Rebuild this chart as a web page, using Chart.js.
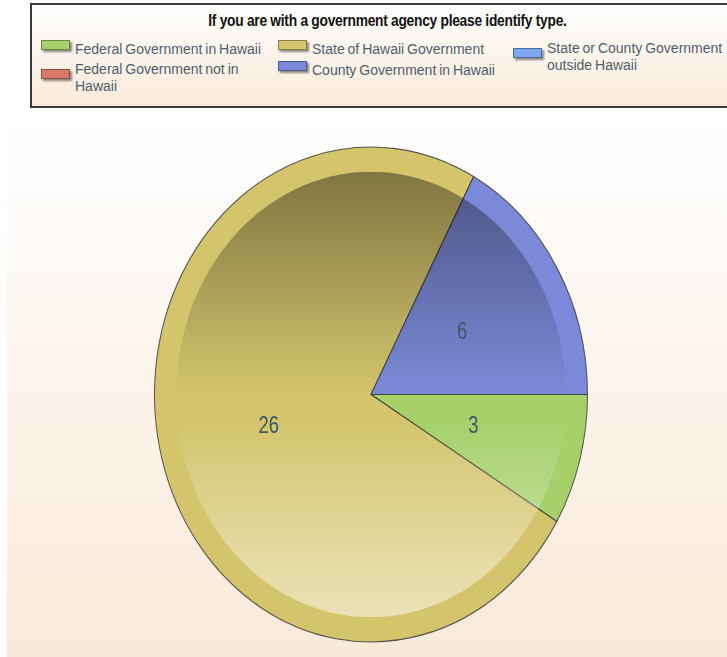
<!DOCTYPE html>
<html>
<head>
<meta charset="utf-8">
<script src="https://cdn.jsdelivr.net/npm/chart.js@4.4.1/dist/chart.umd.min.js"></script>
<style>
  body { margin: 0; width: 727px; height: 657px; overflow: hidden; background: #fff; position: relative; }
  #panel { position: absolute; left: 7px; top: 132px; right: 0; bottom: 0;
           background: linear-gradient(#fefefe, #f9e9d8); }
  #legend { position: absolute; left: 30px; top: 3px; width: 715px; height: 105px; box-sizing: border-box;
            border: 2px solid #3a3a3a; background: linear-gradient(#fefefe, #f9e9d8); }
  #legend .title { position: absolute; left: 0; right: 0; top: 7px; text-align: center; }
  #legend .title span { display: inline-block; transform: scaleX(0.86); letter-spacing: -0.3px;
                        font: bold 16px "Liberation Sans", sans-serif; color: #111; }
  #legend .item { position: absolute; display: flex; align-items: center; }
  #legend .swatch { width: 27px; height: 8px; border: 1px solid rgba(0,0,0,0.35); margin-right: 5px; margin-bottom: 8px;
                    box-shadow: 2px 2px 2px rgba(0,0,0,0.45); flex: none; }
  #legend .text { font: 14px "Liberation Sans", sans-serif; line-height: 17px; word-spacing: -1px; color: #4d5f6f; }
  #chart { position: absolute; left: 0; top: 0; }
</style>
</head>
<body>
<div id="panel"></div>
<canvas id="chart" width="727" height="657"></canvas>
<div id="legend"><div class="title"><span></span></div></div>

<script>
const chartTitle = 'If you are with a government agency please identify type.';
const categories = [
  'Federal Government in Hawaii',
  'Federal Government not in Hawaii',
  'State of Hawaii Government',
  'County Government in Hawaii',
  'State or County Government outside Hawaii'
];
const counts = [3, 0, 26, 6, 0];
const sliceColors = ['#a6d06a', '#d9796a', '#d4c46c', '#7b8ad8', '#7aa6f2'];

// legend slots: left, top, text width
const legendSlots = [
  [9, 35, 190], [9, 56, 190],
  [246, 35, 200], [246, 56, 200],
  [481, 35, 180]
];

// vertical stretch of the pie (drawn as an ellipse)
const yStretch = 248 / 217;

const legendEl = document.getElementById('legend');
legendEl.querySelector('.title span').textContent = chartTitle;
categories.forEach((name, i) => {
  const item = document.createElement('div');
  item.className = 'item';
  item.style.left = legendSlots[i][0] + 'px';
  item.style.top = legendSlots[i][1] + 'px';
  const sw = document.createElement('div');
  sw.className = 'swatch';
  sw.style.background = sliceColors[i];
  const tx = document.createElement('div');
  tx.className = 'text';
  tx.style.width = legendSlots[i][2] + 'px';
  tx.textContent = name;
  item.appendChild(sw);
  item.appendChild(tx);
  legendEl.appendChild(item);
});

const ellipsePie = {
  id: 'ellipsePie',
  beforeDatasetsDraw(chart) {
    const arc = chart.getDatasetMeta(0).data[0];
    const ctx = chart.ctx;
    ctx.save();
    ctx.translate(arc.x, arc.y);
    ctx.scale(1, yStretch);
    ctx.translate(-arc.x, -arc.y);
  },
  afterDatasetsDraw(chart) {
    const ctx = chart.ctx;
    const meta = chart.getDatasetMeta(0);
    const { x, y, outerRadius } = meta.data[0];
    // glossy shading inside the rim
    const r = outerRadius * 0.9;
    ctx.beginPath();
    ctx.arc(x, y, r, 0, Math.PI * 2);
    ctx.clip();
    const g = ctx.createLinearGradient(0, y - r, 0, y + r);
    g.addColorStop(0, 'rgba(0,0,0,0.40)');
    g.addColorStop(0.5, 'rgba(0,0,0,0)');
    g.addColorStop(0.55, 'rgba(255,255,255,0)');
    g.addColorStop(1, 'rgba(255,255,255,0.52)');
    ctx.fillStyle = g;
    ctx.fillRect(x - r, y - r, r * 2, r * 2);
    ctx.restore();

    // value labels, in a condensed face
    ctx.font = '23px "Liberation Sans", sans-serif';
    ctx.fillStyle = '#3b5866';
    ctx.textAlign = 'center';
    ctx.textBaseline = 'middle';
    meta.data.forEach((a, i) => {
      const v = chart.data.datasets[0].data[i];
      if (!v) return;
      const mid = (a.startAngle + a.endAngle) / 2;
      const d = outerRadius * 0.49;
      ctx.save();
      ctx.translate(x + Math.cos(mid) * d, y + Math.sin(mid) * d * yStretch);
      ctx.scale(0.8, 1);
      ctx.fillText(String(v), 0, 0);
      ctx.restore();
    });
  }
};

new Chart(document.getElementById('chart').getContext('2d'), {
  type: 'pie',
  data: {
    labels: categories,
    datasets: [{
      data: counts,
      backgroundColor: sliceColors,
      borderColor: 'rgba(60,60,55,0.85)',
      borderWidth: 1
    }]
  },
  options: {
    responsive: false,
    animation: false,
    rotation: 90,
    layout: { padding: { left: 154, right: 139, top: 177, bottom: 45 } },
    plugins: {
      legend: { display: false },
      tooltip: { enabled: false }
    }
  },
  plugins: [ellipsePie]
});
</script>
</body>
</html>
